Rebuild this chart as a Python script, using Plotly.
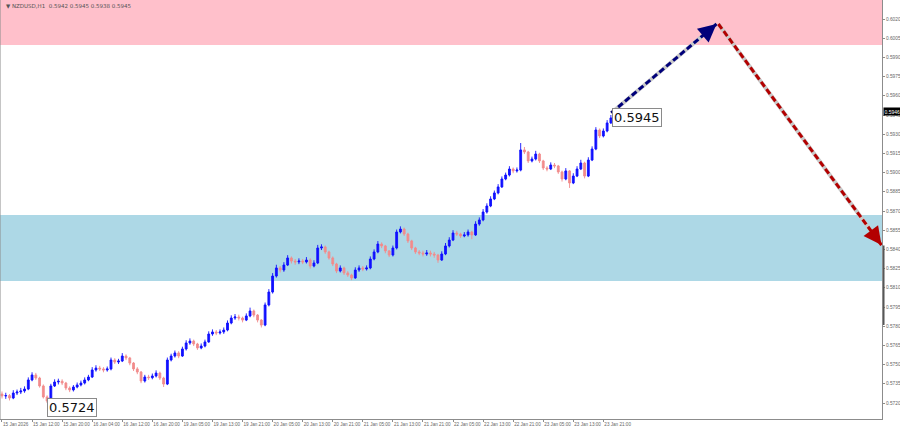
import plotly.graph_objects as go

# ---------------- data ----------------
title_text = "\u25bc NZDUSD,H1  0.5942 0.5945 0.5938 0.5945"

first_open = 0.57270
closes = [
    0.57255, 0.57258, 0.57239, 0.57278, 0.57286, 0.57294, 0.57309, 0.57380, 0.57419, 0.57395,
    0.57333, 0.57247, 0.57215, 0.57333, 0.57364, 0.57370, 0.57356, 0.57317, 0.57302, 0.57325,
    0.57341, 0.57356, 0.57380, 0.57403, 0.57458, 0.57473, 0.57466, 0.57458, 0.57466, 0.57536,
    0.57520, 0.57528, 0.57567, 0.57552, 0.57512, 0.57466, 0.57442, 0.57372, 0.57403, 0.57398,
    0.57411, 0.57434, 0.57395, 0.57348, 0.57536, 0.57567, 0.57591, 0.57567, 0.57622, 0.57669,
    0.57684, 0.57661, 0.57630, 0.57645, 0.57677, 0.57739, 0.57755, 0.57747, 0.57755, 0.57770,
    0.57825, 0.57864, 0.57872, 0.57864, 0.57848, 0.57880, 0.57919, 0.57887, 0.57848, 0.57809,
    0.57966, 0.58067, 0.58192, 0.58255, 0.58239, 0.58278, 0.58333, 0.58309, 0.58302, 0.58309,
    0.58302, 0.58317, 0.58270, 0.58294, 0.58411, 0.58419, 0.58380, 0.58333, 0.58286, 0.58231,
    0.58255, 0.58216, 0.58200, 0.58177, 0.58239, 0.58255, 0.58247, 0.58255, 0.58325, 0.58380,
    0.58442, 0.58427, 0.58388, 0.58356, 0.58411, 0.58536, 0.58559, 0.58520, 0.58466, 0.58411,
    0.58380, 0.58372, 0.58364, 0.58372, 0.58364, 0.58356, 0.58317, 0.58364, 0.58427, 0.58473,
    0.58528, 0.58520, 0.58505, 0.58513, 0.58536, 0.58513, 0.58598, 0.58630, 0.58692, 0.58739,
    0.58794, 0.58841, 0.58888, 0.58950, 0.58981, 0.59028, 0.59013, 0.59020, 0.59177, 0.59161,
    0.59091, 0.59106, 0.59145, 0.59091, 0.59036, 0.59028, 0.59059, 0.59052, 0.59005, 0.58950,
    0.59013, 0.58919, 0.58973, 0.59028, 0.59075, 0.58973, 0.59098, 0.59184, 0.59333, 0.59286,
    0.59325, 0.59388, 0.59427,
]
highs = [
    0.57290, 0.57280, 0.57270, 0.57300, 0.57305, 0.57318, 0.57330, 0.57400, 0.57440, 0.57435,
    0.57405, 0.57345, 0.57260, 0.57350, 0.57385, 0.57390, 0.57385, 0.57365, 0.57330, 0.57340,
    0.57360, 0.57375, 0.57400, 0.57420, 0.57480, 0.57495, 0.57490, 0.57480, 0.57485, 0.57555,
    0.57550, 0.57545, 0.57590, 0.57580, 0.57560, 0.57520, 0.57480, 0.57450, 0.57420, 0.57420,
    0.57430, 0.57455, 0.57445, 0.57405, 0.57555, 0.57585, 0.57610, 0.57605, 0.57640, 0.57690,
    0.57705, 0.57695, 0.57670, 0.57665, 0.57695, 0.57760, 0.57775, 0.57770, 0.57775, 0.57790,
    0.57845, 0.57885, 0.57895, 0.57890, 0.57875, 0.57900, 0.57945, 0.57930, 0.57895, 0.57855,
    0.57985, 0.58090, 0.58215, 0.58280, 0.58270, 0.58300, 0.58355, 0.58345, 0.58325, 0.58330,
    0.58325, 0.58340, 0.58330, 0.58315, 0.58435, 0.58440, 0.58430, 0.58390, 0.58345, 0.58295,
    0.58275, 0.58265, 0.58230, 0.58210, 0.58260, 0.58275, 0.58270, 0.58275, 0.58345, 0.58400,
    0.58465, 0.58455, 0.58435, 0.58395, 0.58430, 0.58555, 0.58580, 0.58570, 0.58530, 0.58475,
    0.58420, 0.58395, 0.58390, 0.58395, 0.58390, 0.58380, 0.58365, 0.58385, 0.58450, 0.58495,
    0.58550, 0.58545, 0.58530, 0.58535, 0.58555, 0.58545, 0.58620, 0.58650, 0.58715, 0.58760,
    0.58815, 0.58860, 0.58910, 0.58970, 0.59000, 0.59050, 0.59040, 0.59040, 0.59231, 0.59200,
    0.59170, 0.59125, 0.59170, 0.59155, 0.59100, 0.59050, 0.59080, 0.59075, 0.59060, 0.59015,
    0.59035, 0.59020, 0.58995, 0.59050, 0.59100, 0.59085, 0.59120, 0.59205, 0.59355, 0.59345,
    0.59345, 0.59410, 0.59450,
]
lows = [
    0.57235, 0.57232, 0.57220, 0.57230, 0.57262, 0.57270, 0.57280, 0.57300, 0.57370, 0.57380,
    0.57320, 0.57235, 0.57200, 0.57210, 0.57325, 0.57345, 0.57340, 0.57300, 0.57285, 0.57290,
    0.57315, 0.57330, 0.57345, 0.57370, 0.57395, 0.57445, 0.57450, 0.57440, 0.57445, 0.57455,
    0.57505, 0.57505, 0.57520, 0.57535, 0.57495, 0.57450, 0.57425, 0.57355, 0.57360, 0.57380,
    0.57385, 0.57400, 0.57380, 0.57325, 0.57340, 0.57525, 0.57555, 0.57550, 0.57560, 0.57610,
    0.57655, 0.57645, 0.57615, 0.57620, 0.57635, 0.57670, 0.57725, 0.57730, 0.57735, 0.57740,
    0.57760, 0.57815, 0.57850, 0.57845, 0.57830, 0.57840, 0.57870, 0.57870, 0.57830, 0.57790,
    0.57800, 0.57955, 0.58055, 0.58180, 0.58220, 0.58225, 0.58270, 0.58290, 0.58280, 0.58285,
    0.58285, 0.58290, 0.58250, 0.58260, 0.58285, 0.58395, 0.58365, 0.58320, 0.58270, 0.58215,
    0.58220, 0.58200, 0.58185, 0.58160, 0.58170, 0.58225, 0.58230, 0.58235, 0.58245, 0.58315,
    0.58370, 0.58410, 0.58370, 0.58340, 0.58345, 0.58400, 0.58525, 0.58505, 0.58450, 0.58395,
    0.58365, 0.58355, 0.58345, 0.58350, 0.58345, 0.58335, 0.58295, 0.58310, 0.58355, 0.58415,
    0.58465, 0.58505, 0.58490, 0.58495, 0.58500, 0.58480, 0.58505, 0.58585, 0.58620, 0.58680,
    0.58730, 0.58785, 0.58830, 0.58880, 0.58940, 0.58970, 0.58995, 0.59000, 0.59010, 0.59145,
    0.59075, 0.59080, 0.59095, 0.59075, 0.59020, 0.59010, 0.59020, 0.59035, 0.58990, 0.58930,
    0.58940, 0.58880, 0.58910, 0.58965, 0.59020, 0.58955, 0.58965, 0.59090, 0.59175, 0.59270,
    0.59275, 0.59315, 0.59380,
]
opens = [first_open] + closes[:-1]
bars = list(range(len(closes)))

tick_labels = ["15 Jan 2026", "15 Jan 12:00", "15 Jan 20:00", "16 Jan 04:00", "16 Jan 12:00",
               "16 Jan 20:00", "19 Jan 05:00", "19 Jan 13:00", "19 Jan 21:00", "20 Jan 05:00",
               "20 Jan 13:00", "20 Jan 21:00", "21 Jan 05:00", "21 Jan 13:00", "21 Jan 21:00",
               "22 Jan 05:00", "22 Jan 13:00", "22 Jan 21:00", "23 Jan 05:00", "23 Jan 13:00",
               "23 Jan 21:00"]
tick_bars = [8 * k for k in range(len(tick_labels))]

price_ticks = [0.5720, 0.5735, 0.5750, 0.5765, 0.5780, 0.5795, 0.5810, 0.5825, 0.5840, 0.5855,
               0.5870, 0.5885, 0.5900, 0.5915, 0.5930, 0.5945, 0.5960, 0.5975, 0.5990, 0.6005, 0.6020]

resistance_zone = (0.59997, 0.60400)   # pink
support_zone = (0.58153, 0.58669)      # light blue

up_arrow = {"x0": 162.1, "y0": 0.59466, "x1": 190.1, "y1": 0.60161}
down_arrow = {"x0": 190.6, "y0": 0.60161, "x1": 234.0, "y1": 0.58434}

low_label = {"bar": 12.0, "price": 0.57161, "text": "0.5724"}
last_label = {"bar": 162.3, "price": 0.59430, "text": "0.5945"}
bid_price = 0.5946

x_range = [-0.53, 234.13]
y_range = [0.57075, 0.603484]

# ---------------- figure ----------------
fig = go.Figure()

fig.add_shape(type="rect", xref="paper", x0=0, x1=1, yref="y",
              y0=resistance_zone[0], y1=resistance_zone[1],
              fillcolor="#FFC0CB", line_width=0, layer="below")
fig.add_shape(type="rect", xref="paper", x0=0, x1=1, yref="y",
              y0=support_zone[0], y1=support_zone[1],
              fillcolor="#ADD8E6", line_width=0, layer="below")

fig.add_trace(go.Candlestick(
    x=bars, open=opens, high=highs, low=lows, close=closes,
    increasing=dict(line=dict(color="#1010ff", width=0.9), fillcolor="#1010ff"),
    decreasing=dict(line=dict(color="#f28c8c", width=0.9), fillcolor="#f28c8c"),
    whiskerwidth=0, showlegend=False, hoverinfo="skip",
))

# arrows: gray halo + dashed colored line + arrowhead
for arr, col in ((up_arrow, "#00007a"), (down_arrow, "#b30000")):
    fig.add_trace(go.Scatter(x=[arr["x0"], arr["x1"]], y=[arr["y0"], arr["y1"]],
                             mode="lines", line=dict(color="#c9c9c9", width=4),
                             showlegend=False, hoverinfo="skip"))
    fig.add_trace(go.Scatter(x=[arr["x0"], arr["x1"]], y=[arr["y0"], arr["y1"]],
                             mode="lines", line=dict(color=col, width=3, dash="6px,3px"),
                             showlegend=False, hoverinfo="skip"))

fig.add_annotation(x=up_arrow["x1"], y=up_arrow["y1"], ax=-10, ay=8.5,
                   xref="x", yref="y", axref="pixel", ayref="pixel",
                   showarrow=True, arrowhead=2, arrowsize=1.2, arrowwidth=3,
                   arrowcolor="#00007a", text="")
fig.add_annotation(x=down_arrow["x1"], y=down_arrow["y1"], ax=-7, ay=-9.5,
                   xref="x", yref="y", axref="pixel", ayref="pixel",
                   showarrow=True, arrowhead=2, arrowsize=1.2, arrowwidth=3,
                   arrowcolor="#b30000", text="")

# value labels
for lab in (low_label, last_label):
    fig.add_annotation(x=lab["bar"], y=lab["price"], xref="x", yref="y",
                       text=lab["text"], showarrow=False, xanchor="left", yanchor="middle",
                       font=dict(family="DejaVu Sans", size=13, color="#111111"),
                       bgcolor="white", bordercolor="#8a8a8a", borderwidth=1, borderpad=1)

# current bid label on right axis
fig.add_annotation(x=1.0, y=bid_price, xref="paper", yref="y", xanchor="left",
                   text=f"{bid_price:.4f}", showarrow=False, xshift=1, yshift=2,
                   font=dict(family="Liberation Sans", size=5, color="white"),
                   bgcolor="black", borderpad=0.5)

# title text
fig.add_annotation(x=0.005, y=0.997, xref="paper", yref="paper", xanchor="left", yanchor="top",
                   text=title_text, showarrow=False,
                   font=dict(family="DejaVu Sans", size=5.5, color="#555555"))

# dark mark on the price scale
fig.add_shape(type="line", xref="paper", x0=1.002, x1=1.002, yref="y",
              y0=0.5781, y1=0.5843, line=dict(color="#555555", width=1.5))

fig.update_layout(
    width=900, height=431,
    margin=dict(l=0, r=18, t=0, b=12, autoexpand=False),
    paper_bgcolor="white", plot_bgcolor="white",
    xaxis=dict(range=x_range, tickmode="array", tickvals=tick_bars, ticktext=tick_labels,
               tickangle=0, automargin=False,
               showgrid=False, zeroline=False, rangeslider=dict(visible=False),
               showline=True, linecolor="#8c8c8c", linewidth=1, mirror=False,
               ticks="outside", ticklen=2, tickcolor="#8c8c8c",
               tickfont=dict(family="Liberation Sans", size=4.6, color="#666666"),
               fixedrange=True),
    yaxis=dict(range=y_range, side="right", tickmode="array", tickvals=price_ticks,
               ticktext=[f"{v:.4f}" for v in price_ticks], automargin=False,
               showgrid=False, zeroline=False, showline=True, linecolor="#8c8c8c",
               linewidth=1, ticks="outside", ticklen=2, tickcolor="#8c8c8c",
               tickfont=dict(family="Liberation Sans", size=4.8, color="#666666"),
               fixedrange=True),
    hovermode=False,
)
fig.update_xaxes(ticklabelposition="outside right")

fig.add_shape(type="line", xref="paper", yref="paper", x0=0, x1=0, y0=0, y1=1,
              line=dict(color="#8c8c8c", width=1))

fig.write_html("out.html", config={"displayModeBar": False},
               post_script="document.body.style.margin='0px';document.body.style.overflow='hidden';")
